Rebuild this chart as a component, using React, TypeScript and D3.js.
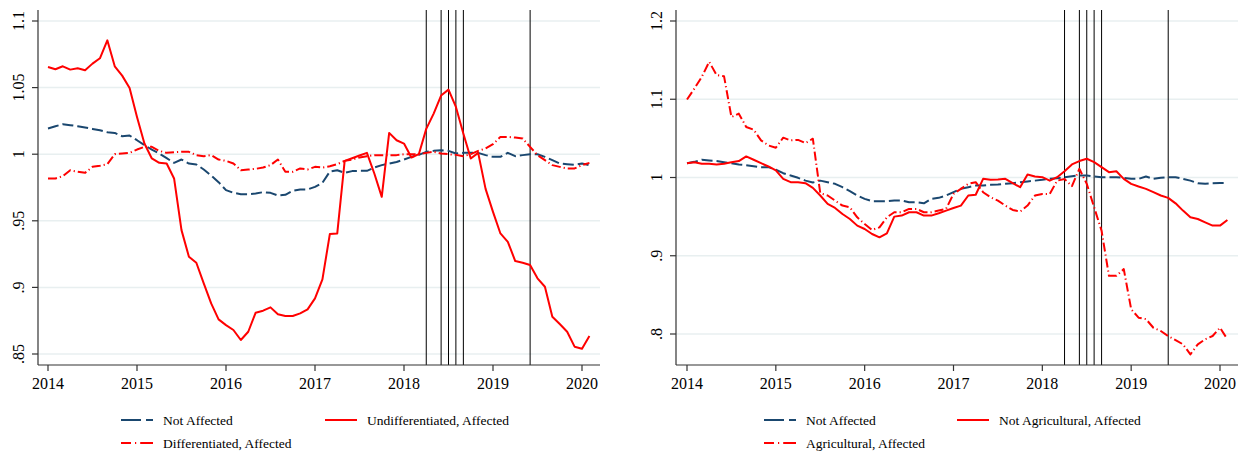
import React from "react";
import * as d3 from "d3";

// monthly, 2014m1 .. 2020m2
const START_YEAR = 2014;
const yearTicks = [2014, 2015, 2016, 2017, 2018, 2019, 2020];
const eventDates = [2018.25, 2018.417, 2018.5, 2018.583, 2018.667, 2019.417];

// left panel
const leftYTicks = [0.85, 0.9, 0.95, 1, 1.05, 1.1];
const leftYLabels = [".85", ".9", ".95", "1", "1.05", "1.1"];
const notAffectedL = [
  1.0193, 1.021, 1.0225, 1.0218, 1.021, 1.02, 1.019, 1.018, 1.0165, 1.016,
  1.0135, 1.014, 1.0105, 1.0068, 1.0035, 1.0005, 0.997, 0.9935, 0.996, 0.993,
  0.9923, 0.9885, 0.984, 0.979, 0.973, 0.971, 0.97, 0.97, 0.9705, 0.9715,
  0.971, 0.969, 0.9695, 0.9725, 0.9735, 0.9735, 0.9755, 0.9785, 0.987, 0.988,
  0.986, 0.9873, 0.9875, 0.9875, 0.99, 0.9918, 0.993, 0.9942, 0.996, 0.998,
  0.9995, 1.0018, 1.0025, 1.003, 1.0025, 1.0005, 1.001, 1.001, 1.001, 0.9993,
  0.998, 0.998, 1.001, 0.9985, 0.9993, 1.0, 1.0, 0.998, 0.9955, 0.993,
  0.9925, 0.992, 0.993, 0.9918,
];
const undiffAffected = [
  1.0655, 1.0638, 1.066, 1.0635, 1.0645, 1.063, 1.068, 1.072, 1.0855, 1.066,
  1.059, 1.0497, 1.028, 1.008, 0.9968, 0.9935, 0.993, 0.9818, 0.943, 0.923,
  0.9185, 0.903, 0.888, 0.876, 0.8717, 0.868, 0.8605, 0.8667, 0.881, 0.8825,
  0.885, 0.8798, 0.8785, 0.8785, 0.8805, 0.8835, 0.8918, 0.906, 0.94, 0.9405,
  0.995, 0.997, 0.999, 1.001, 0.9855, 0.968, 1.016, 1.0105, 1.008, 0.9975,
  1.0, 1.019, 1.0305, 1.044, 1.0485, 1.0355, 1.0155, 0.9968, 1.001, 0.974,
  0.9567, 0.9405, 0.9342, 0.9198, 0.9185, 0.9168, 0.9068, 0.9005, 0.878, 0.8725,
  0.8667, 0.8555, 0.854, 0.8635,
];
const diffAffected = [
  0.9818, 0.9818, 0.9835, 0.988, 0.9868, 0.986, 0.9905, 0.9913, 0.9925, 1.0,
  1.0005, 1.001, 1.0035, 1.0055, 1.0055, 1.0025, 1.001, 1.0015, 1.0018, 1.0018,
  0.9993, 0.9985, 0.9993, 0.996, 0.995, 0.993, 0.988, 0.9885, 0.989, 0.99,
  0.9918, 0.996, 0.9868, 0.9868, 0.9893, 0.9885, 0.9905, 0.99, 0.991, 0.9925,
  0.995, 0.996, 0.9975, 0.9985, 0.9993, 0.9993, 0.9993, 0.9993, 1.0, 1.0,
  1.0, 1.001, 1.0018, 1.0005, 1.0, 0.9995, 0.9985, 1.0, 1.0025, 1.0043,
  1.0075, 1.013, 1.013, 1.0125, 1.0118, 1.0055, 0.9993, 0.9955, 0.9918, 0.9905,
  0.9893, 0.9893, 0.9918, 0.9935,
];

// right panel
const rightYTicks = [0.8, 0.9, 1, 1.1, 1.2];
const rightYLabels = [".8", ".9", "1", "1.1", "1.2"];
const notAffectedR = [
  1.0183, 1.02, 1.0227, 1.0218, 1.021, 1.0196, 1.0183, 1.0167, 1.0158, 1.0145,
  1.0132, 1.0132, 1.0099, 1.0055, 1.0026, 0.9996, 0.996, 0.9936, 0.996, 0.994,
  0.9919, 0.9876, 0.9825, 0.977, 0.9727, 0.9697, 0.9697, 0.9697, 0.9705, 0.9705,
  0.9684, 0.9684, 0.967, 0.9727, 0.974, 0.977, 0.9812, 0.9855, 0.9876, 0.9897,
  0.9897, 0.9906, 0.991, 0.9919, 0.9927, 0.994, 0.9949, 0.996, 0.997, 0.9983,
  0.9991, 1.0004, 1.0017, 1.0026, 1.0026, 1.0013, 1.0004, 1.0004, 1.0004, 0.9996,
  0.9983, 0.9983, 1.0013, 0.9983, 0.9996, 1.0004, 1.0004, 0.9983, 0.996, 0.9927,
  0.9919, 0.9927, 0.993, 0.993,
];
const notAgrAffected = [
  1.0183, 1.0196, 1.0175, 1.0175, 1.0167, 1.0175, 1.0196, 1.021, 1.0269, 1.0227,
  1.0183, 1.0141, 1.009, 0.9983, 0.994, 0.994, 0.9927, 0.9868, 0.977, 0.9663,
  0.9611, 0.9534, 0.947, 0.9385, 0.9342, 0.9278, 0.9235, 0.9286, 0.95, 0.9513,
  0.9556, 0.9556, 0.9513, 0.9513, 0.9543, 0.9577, 0.961, 0.9641, 0.977, 0.978,
  0.9983, 0.997, 0.9975, 0.9983, 0.9927, 0.9876, 1.0038, 1.0013, 1.0004, 0.996,
  1.0004, 1.008, 1.0167, 1.021, 1.024, 1.0196, 1.0132, 1.0068, 1.008, 0.9983,
  0.9919, 0.9885, 0.9855, 0.9812, 0.977, 0.974, 0.967, 0.9577, 0.9491, 0.947,
  0.9427, 0.9385, 0.9385, 0.9457,
];
const agrAffected = [
  1.0996, 1.1137, 1.1286, 1.1479, 1.1308, 1.1295, 1.0773, 1.0816, 1.0645, 1.0611,
  1.0474, 1.041, 1.038, 1.0509, 1.0474, 1.048, 1.044, 1.0496, 0.98, 0.977,
  0.9705, 0.9641, 0.9619, 0.9491, 0.9406, 0.933, 0.9363, 0.9491, 0.9556, 0.9556,
  0.9599, 0.9599, 0.9556, 0.9556, 0.9577, 0.96, 0.979, 0.9855, 0.9919, 0.994,
  0.9812, 0.9748, 0.9705, 0.9641, 0.9585, 0.9564, 0.9641, 0.977, 0.979, 0.979,
  0.996, 0.998, 0.989, 1.0111, 0.9919, 0.9619, 0.932, 0.8744, 0.8744, 0.883,
  0.8317, 0.8209, 0.819, 0.808, 0.8038, 0.7974, 0.7923, 0.7868, 0.774, 0.7868,
  0.7932, 0.7974, 0.808, 0.7932,
];

const NAVY = "#1a476f";
const RED = "#ff0000";
const FONT = "'Liberation Serif', 'Times New Roman', serif";

const styles = {
  dash: { color: NAVY, dash: "11,4" },
  solid: { color: RED, dash: undefined },
  dashdot: { color: RED, dash: "9,3,1.2,3" },
};

interface Series {
  name: string;
  values: number[];
  style: keyof typeof styles;
}

interface PanelProps {
  left: number; // x of the y-axis
  right: number; // end of grid
  x0: number; // pixel of 2014
  x1: number; // pixel of 2020
  yTicks: number[];
  yLabels: string[];
  yLoPx: number; // pixel of first tick
  yHiPx: number; // pixel of last tick
  series: Series[];
  legendCols: [number, number]; // x of sample start for col 1 and col 2
}

const TOP = 10;
const BOTTOM = 365;

const Panel: React.FC<PanelProps> = ({ left, right, x0, x1, yTicks, yLabels, yLoPx, yHiPx, series, legendCols }) => {
  const x = d3.scaleLinear().domain([2014, 2020]).range([x0, x1]);
  const y = d3
    .scaleLinear()
    .domain([yTicks[0], yTicks[yTicks.length - 1]])
    .range([yLoPx, yHiPx]);

  const line = d3
    .line<number>()
    .x((_, i) => x(START_YEAR + i / 12))
    .y((d) => y(d));

  // legend order: col1 row1, col2 row1, col1 row2
  const legendPos = [
    { x: legendCols[0], y: 420 },
    { x: legendCols[1], y: 420 },
    { x: legendCols[0], y: 443 },
  ];

  return (
    <g>
      {/* grid */}
      {yTicks.map((t) => (
        <line key={"g" + t} x1={left} x2={right} y1={y(t)} y2={y(t)} stroke="#e8eff0" strokeWidth={1.5} />
      ))}
      {/* event lines */}
      {eventDates.map((d) => (
        <line key={"v" + d} x1={x(d)} x2={x(d)} y1={TOP} y2={BOTTOM} stroke="#000" strokeWidth={1} />
      ))}
      {/* series */}
      {series.map((s) => (
        <path
          key={s.name}
          d={line(s.values) || ""}
          fill="none"
          stroke={styles[s.style].color}
          strokeWidth={2}
          strokeDasharray={styles[s.style].dash}
          strokeLinejoin="round"
        />
      ))}
      {/* axes */}
      <line x1={left} x2={left} y1={TOP} y2={BOTTOM} stroke="#333" strokeWidth={1.2} />
      <line x1={left} x2={right} y1={BOTTOM} y2={BOTTOM} stroke="#333" strokeWidth={1.2} />
      {yTicks.map((t, i) => (
        <g key={"yt" + t}>
          <line x1={left - 6} x2={left} y1={y(t)} y2={y(t)} stroke="#333" strokeWidth={1.2} />
          <text
            transform={`translate(${left - 14},${y(t)}) rotate(-90)`}
            textAnchor="middle"
            fontSize={16}
            fontFamily={FONT}
            fill="#000"
          >
            {yLabels[i]}
          </text>
        </g>
      ))}
      {yearTicks.map((yr) => (
        <g key={"xt" + yr}>
          <line x1={x(yr)} x2={x(yr)} y1={BOTTOM} y2={BOTTOM + 6} stroke="#333" strokeWidth={1.2} />
          <text x={x(yr)} y={BOTTOM + 24} textAnchor="middle" fontSize={16} fontFamily={FONT} fill="#000">
            {yr}
          </text>
        </g>
      ))}
      {/* legend */}
      {series.map((s, i) => (
        <g key={"lg" + s.name}>
          <line
            x1={legendPos[i].x}
            x2={legendPos[i].x + 32}
            y1={legendPos[i].y}
            y2={legendPos[i].y}
            stroke={styles[s.style].color}
            strokeWidth={2}
            strokeDasharray={s.style === "dash" ? "20,5,8" : s.style === "dashdot" ? "10,4,1.2,4,13" : undefined}
          />
          <text
            x={legendPos[i].x + 42}
            y={legendPos[i].y + 4.5}
            fontSize={13.5}
            fontFamily={FONT}
            fill="#000"
          >
            {s.name}
          </text>
        </g>
      ))}
    </g>
  );
};

export default function App() {
  return (
    <div style={{ position: "absolute", left: 0, top: 0, background: "#fff" }}>
      <svg width={1246} height={451} style={{ display: "block" }}>
        <rect width={1246} height={451} fill="#fff" />
        <Panel
          left={38}
          right={600}
          x0={48}
          x1={582}
          yTicks={leftYTicks}
          yLabels={leftYLabels}
          yLoPx={354}
          yHiPx={21}
          legendCols={[121, 325]}
          series={[
            { name: "Not Affected", values: notAffectedL, style: "dash" },
            { name: "Undifferentiated, Affected", values: undiffAffected, style: "solid" },
            { name: "Differentiated, Affected", values: diffAffected, style: "dashdot" },
          ]}
        />
        <Panel
          left={676}
          right={1238}
          x0={687}
          x1={1220}
          yTicks={rightYTicks}
          yLabels={rightYLabels}
          yLoPx={334}
          yHiPx={21}
          legendCols={[764, 957]}
          series={[
            { name: "Not Affected", values: notAffectedR, style: "dash" },
            { name: "Not Agricultural, Affected", values: notAgrAffected, style: "solid" },
            { name: "Agricultural, Affected", values: agrAffected, style: "dashdot" },
          ]}
        />
      </svg>
    </div>
  );
}
